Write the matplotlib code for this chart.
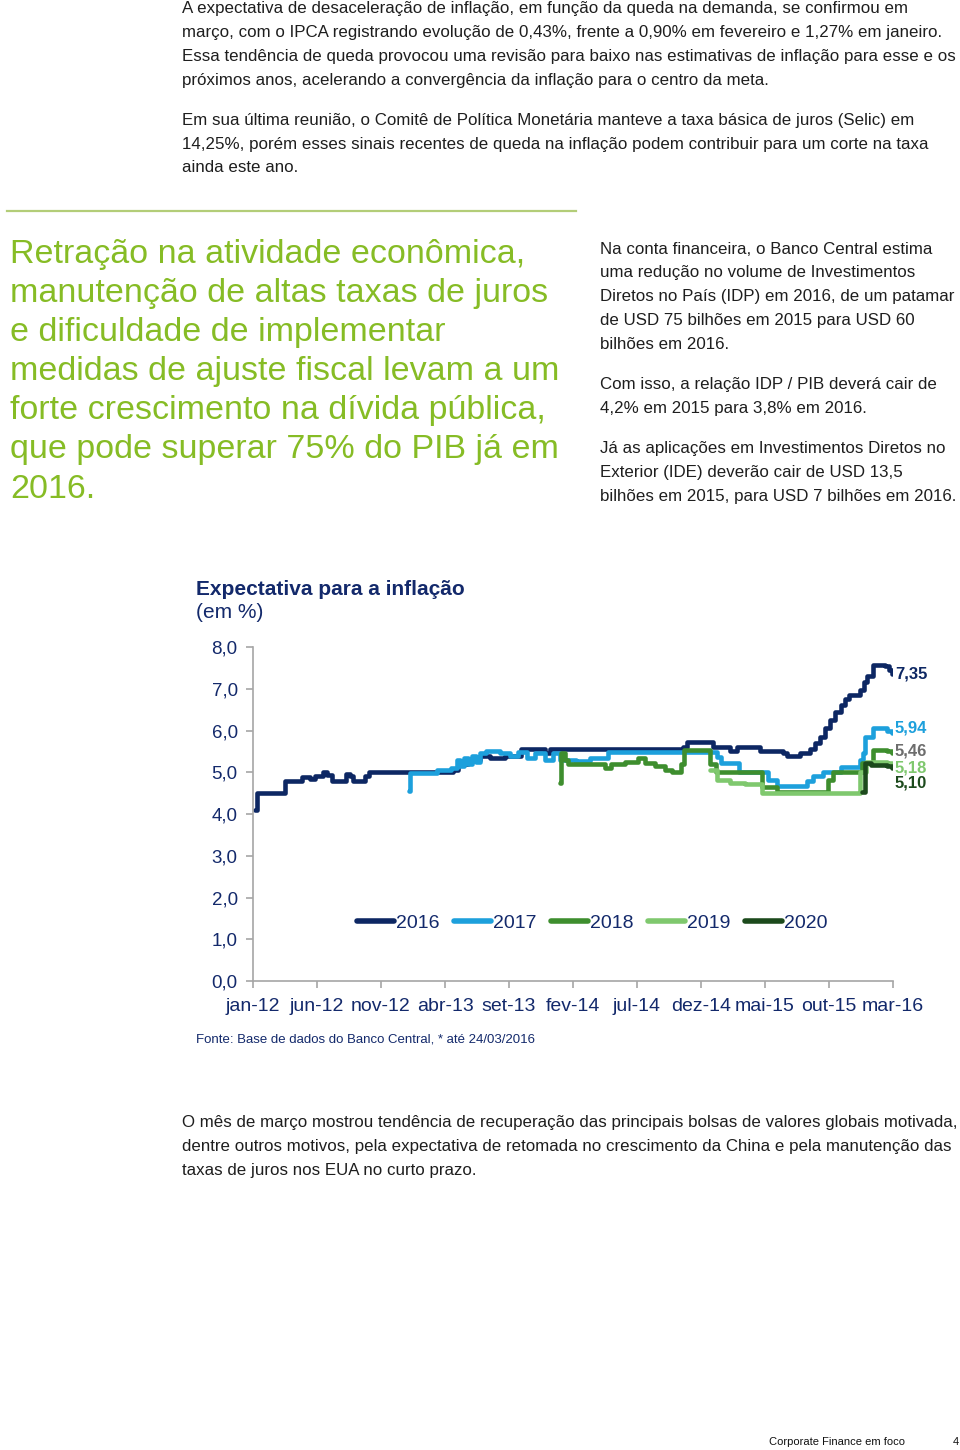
import matplotlib
matplotlib.use('Agg')
import matplotlib.pyplot as plt

# page text
top_lines = [
    'A expectativa de desaceleração de inflação, em função da queda na demanda, se confirmou em',
    'março, com o IPCA registrando evolução de 0,43%, frente a 0,90% em fevereiro e 1,27% em janeiro.',
    'Essa tendência de queda provocou uma revisão para baixo nas estimativas de inflação para esse e os',
    'próximos anos, acelerando a convergência da inflação para o centro da meta.',
]
top_lines2 = [
    'Em sua última reunião, o Comitê de Política Monetária manteve a taxa básica de juros (Selic) em',
    '14,25%, porém esses sinais recentes de queda na inflação podem contribuir para um corte na taxa',
    'ainda este ano.',
]
heading_lines = [
    'Retração na atividade econômica,',
    'manutenção de altas taxas de juros',
    'e dificuldade de implementar',
    'medidas de ajuste fiscal levam a um',
    'forte crescimento na dívida pública,',
    'que pode superar 75% do PIB já em',
    '2016.',
]
right_lines = [
    ['Na conta financeira, o Banco Central estima',
     'uma redução no volume de Investimentos',
     'Diretos no País (IDP) em 2016, de um patamar',
     'de USD 75 bilhões em 2015 para USD 60',
     'bilhões em 2016.'],
    ['Com isso, a relação IDP / PIB deverá cair de',
     '4,2% em 2015 para 3,8% em 2016.'],
    ['Já as aplicações em Investimentos Diretos no',
     'Exterior (IDE) deverão cair de USD 13,5',
     'bilhões em 2015, para USD 7 bilhões em 2016.'],
]
bottom_lines = [
    'O mês de março mostrou tendência de recuperação das principais bolsas de valores globais motivada,',
    'dentre outros motivos, pela expectativa de retomada no crescimento da China e pela manutenção das',
    'taxas de juros nos EUA no curto prazo.',
]

# chart data: months since jan-12, expectation in %
x_tick_labels = ['jan-12', 'jun-12', 'nov-12', 'abr-13', 'set-13', 'fev-14',
                 'jul-14', 'dez-14', 'mai-15', 'out-15', 'mar-16']
series_names = ['2016', '2017', '2018', '2019', '2020']
final_values = ['7,35', '5,94', '5,46', '5,18', '5,10']

m2016 = [0.15, 0.3, 2.5, 3.8, 4.45, 4.85, 5.5, 5.8, 6.15, 7.3, 7.6, 7.8, 8.75, 9.1,
         15.6, 16.0, 16.8, 17.7, 18.5, 19.7, 20.9, 22.8, 23.2, 33.6, 33.9, 35.9,
         37.3, 37.8, 39.6, 41.4, 41.7, 42.7, 43.5, 43.9, 44.3, 44.7, 45.1, 45.5,
         45.9, 46.25, 46.6, 47.4, 47.7, 48.0, 48.4, 49.4, 49.7, 49.9]
v2016 = [4.1, 4.5, 4.8, 4.88, 4.85, 4.9, 5.0, 4.93, 4.8, 4.97, 4.9, 4.8, 4.9, 5.0,
         5.05, 5.2, 5.3, 5.4, 5.35, 5.4, 5.55, 5.45, 5.55, 5.6, 5.73, 5.6,
         5.5, 5.6, 5.5, 5.45, 5.39, 5.45, 5.55, 5.7, 5.85, 6.05, 6.25, 6.45,
         6.61, 6.75, 6.85, 6.97, 7.15, 7.3, 7.57, 7.55, 7.45, 7.35]

m2017 = [12.2, 12.3, 14.4, 15.5, 15.9, 16.2, 16.5, 16.8, 17.1, 17.4, 17.7, 18.2,
         19.3, 20.1, 20.7, 21.4, 22.0, 22.8, 23.4, 24.0, 25.2, 26.3, 27.7, 36.25,
         36.6, 38.0, 40.2, 40.9, 43.3, 43.75, 44.5, 45.9, 47.4, 47.65, 47.8, 48.4,
         49.5, 49.9]
v2017 = [4.55, 4.98, 5.05, 5.1, 5.3, 5.15, 5.35, 5.2, 5.4, 5.25, 5.45, 5.5,
         5.47, 5.38, 5.48, 5.35, 5.45, 5.3, 5.45, 5.3, 5.28, 5.35, 5.48, 5.37,
         5.22, 5.01, 4.81, 4.68, 4.8, 4.9, 5.0, 5.13, 5.3, 5.46, 5.85, 6.06,
         6.0, 5.94]

m2018 = [24.0, 24.1, 24.4, 24.6, 27.5, 28.0, 29.1, 30.1, 30.6, 31.4, 32.2, 32.7,
         33.4, 33.7, 35.7, 36.2, 39.8, 40.9, 44.9, 45.3, 47.6, 48.4, 49.5, 49.9]
v2018 = [4.74, 5.45, 5.3, 5.2, 5.1, 5.2, 5.25, 5.35, 5.22, 5.15, 5.05, 5.0,
         5.2, 5.53, 5.2, 5.0, 4.65, 4.53, 4.81, 5.0, 5.22, 5.53, 5.5, 5.46]

m2019 = [35.7, 36.25, 37.3, 38.4, 39.8, 47.3, 47.4, 47.9, 49.5, 49.9]
v2019 = [5.05, 4.81, 4.75, 4.72, 4.5, 4.5, 5.0, 5.25, 5.22, 5.18]

m2020 = [47.6, 47.8, 48.3, 49.5, 49.9]
v2020 = [4.53, 5.22, 5.17, 5.15, 5.10]

months = [m2016, m2017, m2018, m2019, m2020]
values = [v2016, v2017, v2018, v2019, v2020]
colors = ['#0D2763', '#1DA0DC', '#3E8E2E', '#7FC86E', '#1C4A1C']
label_colors = ['#0D2763', '#1DA0DC', '#6D6D6D', '#7FC86E', '#1C4A1C']
label_y = [7.35, 6.05, 5.5, 5.1, 4.75]

W, H = 960, 1450
fig = plt.figure(figsize=(9.6, 14.5), dpi=100)
fig.patch.set_facecolor('white')
sans = ['Liberation Sans', 'DejaVu Sans']
body_col = '#1E1E1E'
navy = '#13296B'
body_size = 12.2


def put(x, y, s, **kw):
    fig.text(x / W, 1 - y / H, s, va='center', ha='left', family=sans, **kw)


for i, s in enumerate(top_lines):
    put(182, 8 + 24 * i, s, fontsize=body_size, color=body_col)
for i, s in enumerate(top_lines2):
    put(182, 120 + 24 * i, s, fontsize=body_size, color=body_col)

fig.add_artist(plt.Line2D([7 / W, 576 / W], [1 - 211 / H, 1 - 211 / H],
                          color='#B3CD78', linewidth=1.6))

for i, s in enumerate(heading_lines):
    put(10, 254 + 39.2 * i, s, fontsize=24.5, color='#86BC25')

y0 = 249
for block in right_lines:
    for s in block:
        put(600, y0, s, fontsize=body_size, color=body_col)
        y0 += 23.8
    y0 += 16.5

put(196, 590, 'Expectativa para a inflação', fontsize=15, color=navy, fontweight='bold')
put(196, 613, '(em %)', fontsize=15, color=navy)
put(196, 1039, 'Fonte: Base de dados do Banco Central, * até 24/03/2016', fontsize=9.5, color=navy)

for i, s in enumerate(bottom_lines):
    put(182, 1123 + 24 * i, s, fontsize=body_size, color=body_col)

put(769, 1442, 'Corporate Finance em foco', fontsize=8, color='#111111')
put(953, 1442, '4', fontsize=8, color='#111111')

# chart
ax = fig.add_axes([253 / W, 1 - 981 / H, 640 / W, 334 / H])
for m, v, c, name in zip(months, values, colors, series_names):
    ax.plot(m, v, color=c, linewidth=3.3, drawstyle='steps-post', label=name,
            solid_capstyle='round', solid_joinstyle='round')

for m, txt, c, ly in zip(months, final_values, label_colors, label_y):
    ax.text(m[-1] + 0.25, ly, txt, color=c, fontsize=12, fontweight='bold',
            va='center', ha='left', family=sans)

ax.set_xlim(0, 50)
ax.set_ylim(0, 8)
ax.set_xticks(range(0, 51, 5))
ax.set_xticklabels(x_tick_labels)
ax.set_yticks(range(0, 9))
ax.set_yticklabels(['%d,0' % t for t in range(0, 9)])
for sp in ['top', 'right']:
    ax.spines[sp].set_visible(False)
for sp in ['left', 'bottom']:
    ax.spines[sp].set_color('#A6A6A6')
    ax.spines[sp].set_linewidth(1.2)
ax.tick_params(axis='both', colors='#A6A6A6', length=5, width=1.2)
ax.tick_params(axis='y', pad=6)
ax.tick_params(axis='x', pad=7)
for lab in ax.get_yticklabels():
    lab.set_color(navy)
    lab.set_fontsize(13.5)
    lab.set_family(sans)
for lab in ax.get_xticklabels():
    lab.set_color(navy)
    lab.set_fontsize(14)
    lab.set_family(sans)

leg = ax.legend(loc='center', bbox_to_anchor=(0.53, 0.174), ncol=5, frameon=False,
                handlelength=1.9, handletextpad=0.1, columnspacing=0.75,
                prop={'family': sans, 'size': 14})
for t in leg.get_texts():
    t.set_color(navy)
for h in leg.get_lines():
    h.set_linewidth(4)

fig.savefig('out.png', dpi=100, facecolor='white')
